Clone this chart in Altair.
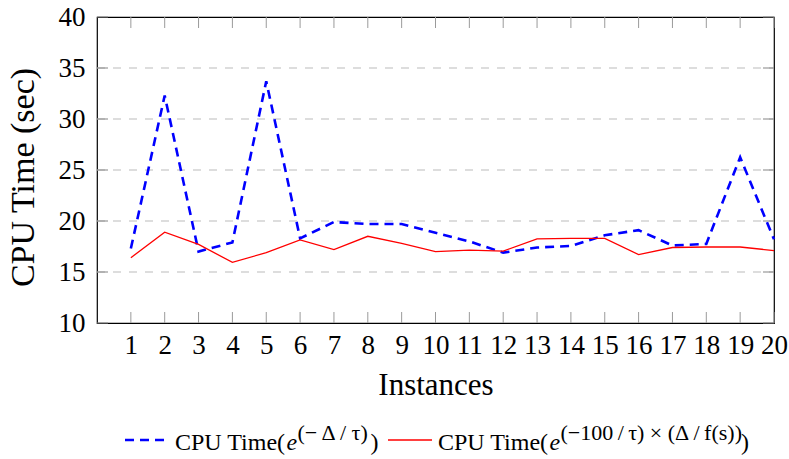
import altair as alt
import pandas as pd

FONT = "Liberation Serif"

instances = list(range(1, 21))
cpu_exp = [17.3, 32.3, 17.0, 17.9, 33.7, 18.3, 19.9, 19.7, 19.7, 18.85,
           18.0, 16.9, 17.4, 17.55, 18.6, 19.1, 17.6, 17.75, 26.25, 18.2]
cpu_mod = [16.4, 18.9, 17.7, 15.95, 16.9, 18.15, 17.2, 18.5, 17.8, 17.0,
           17.15, 17.05, 18.25, 18.3, 18.3, 16.7, 17.4, 17.45, 17.45, 17.1]
y_ticks = [10, 15, 20, 25, 30, 35, 40]
y_grid = [15, 20, 25, 30, 35]

W, H = 677, 306

df_exp = pd.DataFrame({"Instance": instances, "CPU": cpu_exp})
df_mod = pd.DataFrame({"Instance": instances, "CPU": cpu_mod})
df_xt = pd.DataFrame({"Instance": instances})
df_yt = pd.DataFrame({"CPU": y_ticks})
df_yg = pd.DataFrame({"CPU": y_grid})
dummy = pd.DataFrame({"d": [0]})

x_enc = alt.X(
    "Instance:Q",
    scale=alt.Scale(domain=[0, 20], nice=False, zero=False),
    axis=alt.Axis(
        values=instances, title="Instances", grid=False, domain=False,
        ticks=False, tickSize=0, labelFontSize=27, labelPadding=9,
        labelFlush=False, labelOverlap=False, labelColor="black",
        titleFontSize=31, titleFontWeight="normal", titleColor="black",
        titleX=W / 2, titleY=71, titleBaseline="alphabetic", titleAlign="center",
    ),
)
y_enc = alt.Y(
    "CPU:Q",
    scale=alt.Scale(domain=[10, 40], nice=False, zero=False),
    axis=alt.Axis(
        values=y_ticks, title="CPU Time (sec)", grid=False, domain=False,
        ticks=False, tickSize=0,
        labelFontSize=27, labelPadding=12, labelFlush=False, labelColor="black",
        titleFontSize=34, titleFontWeight="normal", titleColor="black",
        titleAngle=270, titleX=-64, titleY=160, titleBaseline="alphabetic",
        titleAlign="center",
    ),
)

grid = alt.Chart(df_yg).mark_rule(
    color="#bbbbbb", strokeWidth=1, strokeDash=[8, 8]
).encode(y=y_enc, x=alt.value(0), x2=alt.value(W))

line_exp = alt.Chart(df_exp).mark_line(
    color="#0000ff", strokeWidth=2.6, strokeDash=[9, 6]
).encode(x=x_enc, y=y_enc)
line_mod = alt.Chart(df_mod).mark_line(
    color="#ff0000", strokeWidth=1.3
).encode(x=x_enc, y=y_enc)

tick_col_x = "#9a9a9a"
tick_col_y = "#858585"
xt_bottom = alt.Chart(df_xt).mark_rule(color=tick_col_x, strokeWidth=1).encode(
    x=x_enc, y=alt.value(H), y2=alt.value(H - 11))
xt_top = alt.Chart(df_xt).mark_rule(color=tick_col_x, strokeWidth=1).encode(
    x=x_enc, y=alt.value(0), y2=alt.value(11))
yt_left = alt.Chart(df_yt).mark_rule(color=tick_col_y, strokeWidth=1).encode(
    y=y_enc, x=alt.value(0), x2=alt.value(11))
yt_right = alt.Chart(df_yt).mark_rule(color=tick_col_y, strokeWidth=1).encode(
    y=y_enc, x=alt.value(W), x2=alt.value(W - 11))

# legend (bottom, centred)
LY = 423
BASE = 433
SUP = 423
THIN = "\u2009"


def txt(s, x, y, size, italic=False):
    return alt.Chart(dummy).mark_text(
        align="left", baseline="alphabetic", font=FONT, fontSize=size,
        fontStyle="italic" if italic else "normal", color="black",
    ).encode(x=alt.value(x), y=alt.value(y), text=alt.value(s))


leg_blue = alt.Chart(dummy).mark_rule(
    color="#0000ff", strokeWidth=2.6, strokeDash=[9, 6]
).encode(x=alt.value(28), x2=alt.value(68), y=alt.value(LY))
leg_red = alt.Chart(dummy).mark_rule(
    color="#ff0000", strokeWidth=1.3
).encode(x=alt.value(291), x2=alt.value(335), y=alt.value(LY))

sup2 = "(−100" + THIN + "/" + THIN + "τ) × (Δ" + THIN + "/" + THIN + "f(s))"

legend_layers = [
    leg_blue,
    txt("CPU Time(", 78, BASE, 24),
    txt("e", 189.4, BASE, 24, italic=True),
    txt("(− Δ / τ)", 200.5, SUP, 22),
    txt(")", 273.5, BASE, 24),
    leg_red,
    txt("CPU Time(", 341, BASE, 24),
    txt("e", 452.4, BASE, 24, italic=True),
    txt(sup2, 463.5, SUP, 22),
    txt(")", 644, BASE, 24),
]

chart = alt.layer(
    grid, xt_bottom, xt_top, yt_left, yt_right, line_exp, line_mod, *legend_layers
).properties(
    width=W, height=H,
    padding={"left": 97, "top": 17, "right": 15, "bottom": 136},
    autosize=alt.AutoSizeParams(type="none"),
).configure(font=FONT).configure_axis(
    labelFont=FONT, titleFont=FONT
).configure_view(stroke="black", strokeWidth=1.2)

chart.save("out.html", embed_options={"renderer": "svg", "actions": False})
